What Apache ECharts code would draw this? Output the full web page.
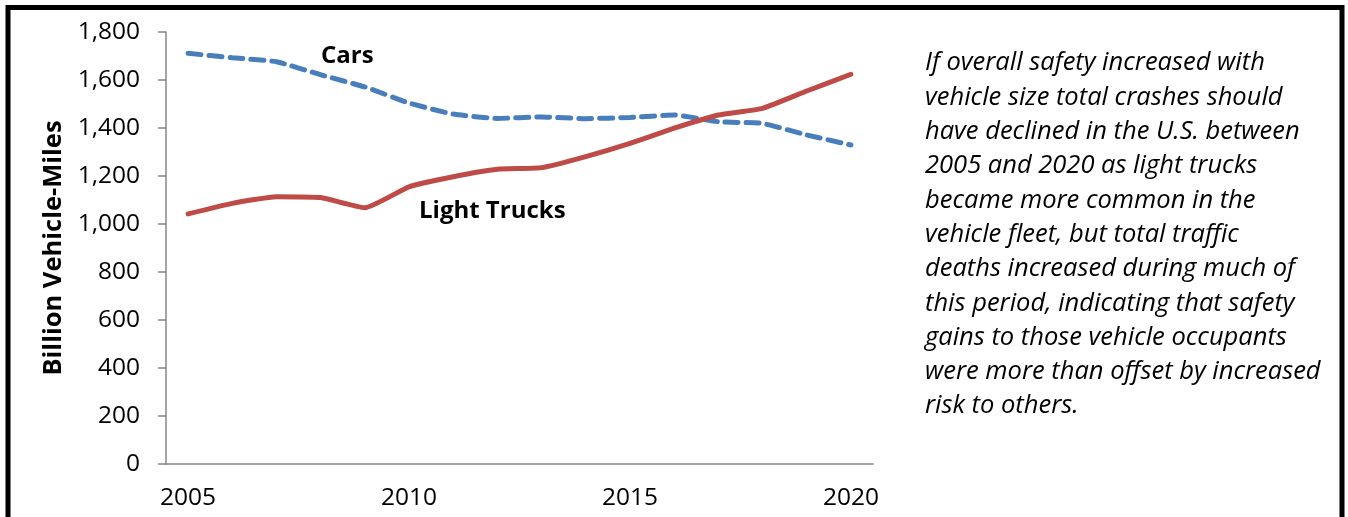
<!DOCTYPE html>
<html>
<head>
<meta charset="utf-8">
<script src="https://cdn.jsdelivr.net/npm/echarts@6/dist/echarts.min.js"></script>
<style>
  html, body { margin: 0; padding: 0; background: #fff; }
  #chart { width: 1348px; height: 517px; }
</style>
</head>
<body>
<div id="chart"></div>
<script>
// billion vehicle-miles travelled
const years = ['2005', '2006', '2007', '2008', '2009', '2010', '2011', '2012',
  '2013', '2014', '2015', '2016', '2017', '2018', '2019', '2020'];
const cars = [1711, 1693, 1676, 1622, 1571, 1504, 1458, 1440,
  1446, 1439, 1444, 1454, 1426, 1419, 1371, 1329];
const lightTrucks = [1042, 1086, 1114, 1110, 1068, 1155, 1197, 1228,
  1235, 1281, 1336, 1399, 1454, 1482, 1554, 1624];
const yTicks = { min: 0, max: 1800, interval: 200 };

const note = [
  'If overall safety increased with',
  'vehicle size total crashes should',
  'have declined in the U.S. between',
  '2005 and 2020 as light trucks',
  'became more common in the',
  'vehicle fleet, but total traffic',
  'deaths increased during much of',
  'this period, indicating that safety',
  'gains to those vehicle occupants',
  'were more than offset by increased',
  'risk to others.'
];

const font = '"Open Sans", Lato, sans-serif';
const axisGray = '#868686';

const chart = echarts.init(document.getElementById('chart'));

const option = {
  backgroundColor: '#fff',
  animation: false,
  grid: { left: 166, right: 475, top: 32, bottom: 53, containLabel: false },
  xAxis: {
    type: 'category',
    data: years,
    boundaryGap: true,
    axisLine: { lineStyle: { color: axisGray, width: 1.5 } },
    axisTick: { interval: 0, length: 8, lineStyle: { color: axisGray, width: 1.5 } },
    axisLabel: { interval: 4, margin: 22, color: '#000', fontFamily: font, fontSize: 24.5 },
    splitLine: { show: false }
  },
  yAxis: {
    type: 'value',
    min: yTicks.min,
    max: yTicks.max,
    interval: yTicks.interval,
    name: 'Billion Vehicle-Miles',
    nameLocation: 'middle',
    nameGap: 98,
    nameTextStyle: { color: '#000', fontFamily: font, fontSize: 25.5, fontWeight: 'bold' },
    axisLine: { show: true, lineStyle: { color: axisGray, width: 1.5 } },
    axisTick: { show: true, length: 8, lineStyle: { color: axisGray, width: 1.5 } },
    axisLabel: {
      margin: 26, color: '#000', fontFamily: font, fontSize: 24.5,
      formatter: v => v.toLocaleString('en-US')
    },
    splitLine: { show: false }
  },
  series: [
    {
      name: 'Cars',
      type: 'line',
      data: cars,
      showSymbol: false,
      smooth: 0.15,
      lineStyle: { color: '#4a7ebb', width: 5, type: [13, 8], cap: 'round' }
    },
    {
      name: 'Light Trucks',
      type: 'line',
      data: lightTrucks,
      showSymbol: false,
      smooth: 0.15,
      lineStyle: { color: '#be4b48', width: 5, cap: 'round', join: 'round' }
    }
  ],
  graphic: [
    {
      type: 'rect',
      shape: { x: 8, y: 7.5, width: 1334, height: 530 },
      style: { fill: 'none', stroke: '#000', lineWidth: 5 }
    },
    {
      type: 'text', left: 321, top: 44,
      style: { text: 'Cars', font: 'bold 24px ' + font, fill: '#000' }
    },
    {
      type: 'text', left: 419, top: 199,
      style: { text: 'Light Trucks', font: 'bold 24px ' + font, fill: '#000' }
    },
    {
      type: 'text', left: 925, top: 46,
      style: {
        text: note.join('\n'),
        font: 'italic 25.5px ' + font,
        lineHeight: 34.3,
        fill: '#000'
      }
    }
  ]
};

chart.setOption(option);
</script>
</body>
</html>
